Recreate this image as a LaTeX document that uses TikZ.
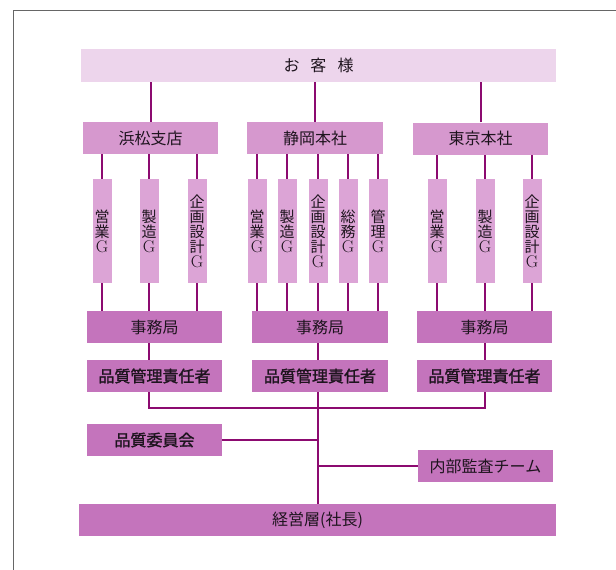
\documentclass[tikz,border=0pt]{standalone}
\usepackage{fontspec}
\newfontfamily\jp[AutoFakeBold=1.5]{Noto Sans CJK JP}
\definecolor{senc}{RGB}{140,10,112}
\definecolor{usui}{RGB}{237,213,236}
\definecolor{naka}{RGB}{214,152,206}
\definecolor{grpc}{RGB}{220,164,214}
\definecolor{koi}{RGB}{196,116,188}
\definecolor{moji}{RGB}{30,20,30}
\begin{document}
\begin{tikzpicture}[x=1pt,y=-1pt,
    sen/.style={draw=senc, line width=2pt},
    box/.style={inner sep=0pt, text=moji, font=\jp\fontsize{16}{18}\selectfont},
    usu/.style={box, fill=usui, minimum height=33pt},
    ten/.style={box, fill=naka, minimum width=135pt, minimum height=32pt},
    grp/.style={box, fill=grpc, minimum width=19pt, minimum height=104pt, align=center,
        font=\jp\fontsize{15}{15}\selectfont},
    koibox/.style={box, fill=koi, minimum width=135pt, minimum height=32pt},
    futo/.style={koibox, font=\jp\bfseries\fontsize{16}{18}\selectfont}]
        \useasboundingbox (0,0) rectangle (616,570);
        \draw[gray!80!black, line width=1pt] (13,570) -- (13,10) -- (616,10);

        % お客様と拠点
        \node[usu, minimum width=475pt] (kyaku) at (318.5,65.5) {お\hspace{11pt}客\hspace{11pt}様};
        \node[ten] (hama) at (150.5,138) {浜松支店};
        \node[ten, minimum width=136pt] (shizu) at (315,138) {静岡本社};
        \node[ten] (tokyo) at (480.5,138.5) {東京本社};
        \foreach \b in {hama, shizu, tokyo}
                \draw[sen] (\b.north) -- (\b.north |- kyaku.south);

        % 事務局・品質管理責任者
        \node[koibox] (jh) at (154.5,327) {事務局};
        \node[koibox, minimum width=136pt] (js) at (320,327) {事務局};
        \node[koibox] (jt) at (484.5,327) {事務局};
        \node[futo] (qh) at (154.5,376) {品質管理責任者};
        \node[futo, minimum width=136pt] (qs) at (320,376) {品質管理責任者};
        \node[futo] (qt) at (484.5,376) {品質管理責任者};

        % グループ
        \foreach \n/\x/\t/\b/\j in {h1/102/{営\\業}/hama/jh, h2/149/{製\\造}/hama/jh,
                h3/197/{企\\画\\設\\計}/hama/jh, s1/257/{営\\業}/shizu/js, s2/287/{製\\造}/shizu/js,
                s3/318/{企\\画\\設\\計}/shizu/js, s4/348/{総\\務}/shizu/js, s5/378/{管\\理}/shizu/js,
                t1/437/{営\\業}/tokyo/jt, t2/485/{製\\造}/tokyo/jt, t3/532/{企\\画\\設\\計}/tokyo/jt} {
                \node[grp] (\n) at (\x,231) {\t\\{\normalfont\fontsize{17}{15}\selectfont G}};
                \draw[sen] (\n.north) -- (\n.north |- \b.south);
                \draw[sen] (\n.south) -- (\n.south |- \j.north);
            }
        \draw[sen] (jh.south -| h2) -- (qh.north -| h2);
        \draw[sen] (js.south -| s3) -- (qs.north -| s3);
        \draw[sen] (jt.south -| t2) -- (qt.north -| t2);

        % 下段
        \node[futo] (iin) at (154.5,440) {品質委員会};
        \node[koibox] (kansa) at (485.5,466) {内部監査チーム};
        \node[koibox, minimum width=477pt] (keiei) at (317.5,520) {経営層(社長)};
        \coordinate (bus) at (318,408);
        \draw[sen] (qh.south -| h2) |- (bus) -| (qt.south -| t2);
        \draw[sen] (qs.south -| s3) -- (keiei.north -| s3);
        \draw[sen] (iin.east) -- (iin.east -| s3);
        \draw[sen] (kansa.west) -- (kansa.west -| s3);
    \end{tikzpicture}
\end{document}
